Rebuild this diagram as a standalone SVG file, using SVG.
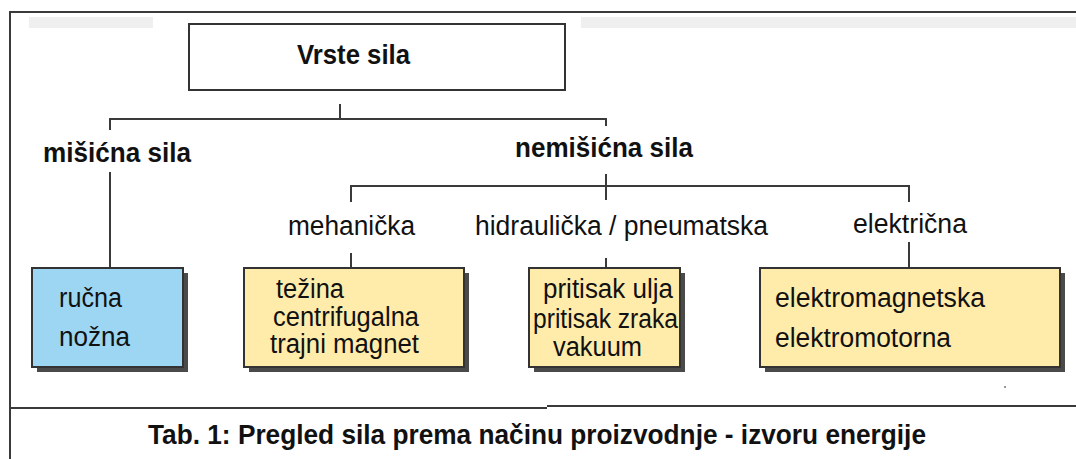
<svg xmlns="http://www.w3.org/2000/svg" width="1076" height="459" viewBox="0 0 1076 459">
<defs>
<style>
.t{font-family:"Liberation Sans",Arial,sans-serif;fill:#111;}
.b{font-weight:bold;font-size:27px;}
.n{font-size:27px;}
.c{stroke:#3a3a3a;stroke-width:2;fill:none;}
.box{stroke:#333;stroke-width:2;}
.sh{fill:#4a4a4a;}
.y{fill:#ffecaa;}
.bl{fill:#9dd6f2;}
</style>
</defs>
<rect x="0" y="0" width="1076" height="459" fill="#fff"/>
<g id="frame">
<rect x="29" y="17" width="124" height="11" fill="#efefef"/>
<rect x="581" y="17" width="495" height="11" fill="#efefef"/>
<path class="c" d="M10 459 V12 H1076"/>
<path class="c" d="M10 408 H547 M547 406 H1076"/>
<rect x="1004" y="386" width="2" height="2" fill="#999"/>
</g>
<g id="connectors">
<path class="c" d="M340 104 V119"/>
<path class="c" d="M110 130 V119 H606 V126"/>
<path class="c" d="M110 172 V268"/>
<path class="c" d="M606 174 V200"/>
<path class="c" d="M351 202 V186 H909 V202"/>
<path class="c" d="M351 253 V267"/>
<path class="c" d="M606 258 V267"/>
<path class="c" d="M909 242 V267"/>
</g>
<g id="title">
<rect x="189" y="24" width="376" height="66" fill="#fff" class="box"/>
<text class="t b" x="297" y="64" style="font-size:28px" textLength="113" lengthAdjust="spacingAndGlyphs">Vrste sila</text>
</g>
<g id="misicna">
<text class="t b" x="43" y="162" textLength="148" lengthAdjust="spacingAndGlyphs">mišićna sila</text>
</g>
<g id="nemisicna">
<text class="t b" x="515" y="157" textLength="178" lengthAdjust="spacingAndGlyphs">nemišićna sila</text>
</g>
<g id="mehanicka-label">
<text class="t n" x="288" y="235" textLength="127" lengthAdjust="spacingAndGlyphs">mehanička</text>
</g>
<g id="hidraulicka-label">
<text class="t n" x="475" y="235" textLength="293" lengthAdjust="spacingAndGlyphs">hidraulička / pneumatska</text>
</g>
<g id="elektricna-label">
<text class="t n" x="853" y="233" textLength="114" lengthAdjust="spacingAndGlyphs">električna</text>
</g>
<g id="box-rucna">
<rect class="sh" x="37" y="273" width="151" height="99"/>
<rect class="bl box" x="32" y="268" width="151" height="99"/>
<text class="t n" x="59" y="307" textLength="63" lengthAdjust="spacingAndGlyphs">ručna</text>
<text class="t n" x="59" y="346" textLength="71" lengthAdjust="spacingAndGlyphs">nožna</text>
</g>
<g id="box-mehanicka">
<rect class="sh" x="249" y="273" width="220" height="99"/>
<rect class="y box" x="244" y="268" width="220" height="99"/>
<text class="t n" x="276" y="298" textLength="68" lengthAdjust="spacingAndGlyphs">težina</text>
<text class="t n" x="273" y="326" textLength="146" lengthAdjust="spacingAndGlyphs">centrifugalna</text>
<text class="t n" x="270" y="353" textLength="149" lengthAdjust="spacingAndGlyphs">trajni magnet</text>
</g>
<g id="box-hidraulicka">
<rect class="sh" x="534" y="273" width="151" height="99"/>
<rect class="y box" x="529" y="268" width="151" height="99"/>
<text class="t n" x="543" y="298" textLength="130" lengthAdjust="spacingAndGlyphs">pritisak ulja</text>
<text class="t n" x="533" y="328" textLength="145" lengthAdjust="spacingAndGlyphs">pritisak zraka</text>
<text class="t n" x="553" y="356" textLength="89" lengthAdjust="spacingAndGlyphs">vakuum</text>
</g>
<g id="box-elektricna">
<rect class="sh" x="765" y="273" width="300" height="99"/>
<rect class="y box" x="760" y="268" width="300" height="99"/>
<text class="t n" x="775" y="307" textLength="210" lengthAdjust="spacingAndGlyphs">elektromagnetska</text>
<text class="t n" x="775" y="347" textLength="176" lengthAdjust="spacingAndGlyphs">elektromotorna</text>
</g>
<g id="caption">
<text class="t b" x="148" y="444" textLength="778" lengthAdjust="spacingAndGlyphs">Tab. 1: Pregled sila prema načinu proizvodnje - izvoru energije</text>
</g>
</svg>
